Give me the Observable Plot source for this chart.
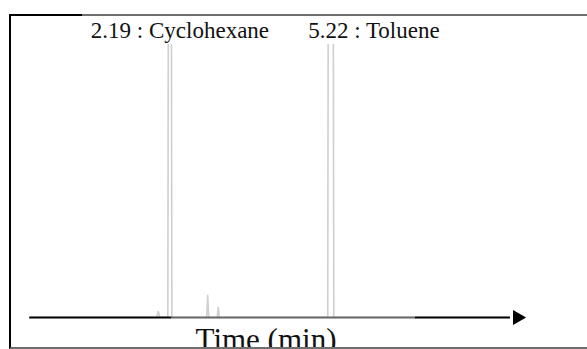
<!DOCTYPE html>
<html>
<head>
<meta charset="utf-8">
<script src="https://cdn.jsdelivr.net/npm/d3@7"></script>
<script src="https://cdn.jsdelivr.net/npm/@observablehq/plot@0.6"></script>
<style>
  html, body { margin: 0; padding: 0; background: #fff; }
  #wrap { position: relative; width: 587px; height: 349px; overflow: hidden; }
  #wrap svg { position: absolute; left: 0; top: 0; }
  #box { position: absolute; left: 9px; top: 14px; width: 590px; height: 335px; box-sizing: border-box;
         border-left: 2px solid #000; border-top: 2px solid #6f6f6f; border-bottom: 2px solid #6f6f6f; pointer-events: none; }
  #boxTop { position: absolute; left: 9px; top: 14px; width: 73px; height: 2px; background: #000; }
</style>
</head>
<body>
<div id="wrap"><div id="box"></div><div id="boxTop"></div></div>
<script>
// Chromatogram trace (time in min, signal in % of view; peaks above 100 are off-scale)
const traceTime   = [-0.45, 1.94, 1.97, 2.00, 2.15, 2.16, 2.216, 2.226, 2.88, 2.90, 2.92, 3.08, 3.10, 3.12, 5.16, 5.17, 5.264, 5.274, 8.6];
const traceSignal = [0,     0,    2.2,  0,    0,    125,  125,   0,     0,    8.1,  0,    0,    3.7,  0,    0,    125,  125,   0,     0];

// Peak annotations
const peakTimes  = [2.19, 5.22];
const peakNames  = ["Cyclohexane", "Toluene"];

// Time axis (arrow)
const axisStart = -0.45;
const axisGrayFrom = 2.23;
const axisGrayTo = 6.81;
const axisEnd = 8.6;
const arrowTip = 8.73;

const trace = traceTime.map((t, i) => ({t, s: traceSignal[i]}));
const labels = peakTimes.map((t, i) => ({t, text: `${t.toFixed(2)} : ${peakNames[i]}`}));

const serif = "'Liberation Serif', 'DejaVu Serif', serif";

const chart = Plot.plot({
  width: 587,
  height: 349,
  marginLeft: 0,
  marginRight: 0,
  marginTop: 44,
  marginBottom: 32,
  x: {domain: [-1, 10.05], axis: null},
  y: {domain: [0, 100], axis: null},
  style: {fontFamily: serif, background: "transparent", overflow: "visible"},
  marks: [
    Plot.line(trace, {x: "t", y: "s", stroke: "#cfcfcf", strokeWidth: 1.6, clip: true}),
    Plot.ruleY([0], {x1: axisStart, x2: axisGrayFrom, stroke: "#000", strokeWidth: 2}),
    Plot.ruleY([0], {x1: axisGrayFrom, x2: axisGrayTo, stroke: "#666", strokeWidth: 2}),
    Plot.ruleY([0], {x1: axisGrayTo, x2: axisEnd, stroke: "#000", strokeWidth: 2}),
    Plot.dot([arrowTip], {x: d => d, y: 0, symbol: "triangle", rotate: 90, r: 5.6, fill: "#000", stroke: "none"}),
    Plot.text([labels[0]], {x: "t", text: "text", frameAnchor: "top", textAnchor: "middle", lineAnchor: "bottom", dx: 10, dy: -7, fontSize: 23, fontFamily: serif, fill: "#111"}),
    Plot.text([labels[1]], {x: "t", text: "text", frameAnchor: "top", textAnchor: "middle", lineAnchor: "bottom", dx: 43, dy: -7, fontSize: 23, fontFamily: serif, fill: "#111"}),
    Plot.text(["Time (min)"], {text: d => d, frameAnchor: "bottom", textAnchor: "middle", lineAnchor: "bottom", dx: -28, dy: 32, fontSize: 31, fontFamily: serif, fill: "#111"})
  ]
});
document.getElementById("wrap").prepend(chart);
</script>
</body>
</html>
